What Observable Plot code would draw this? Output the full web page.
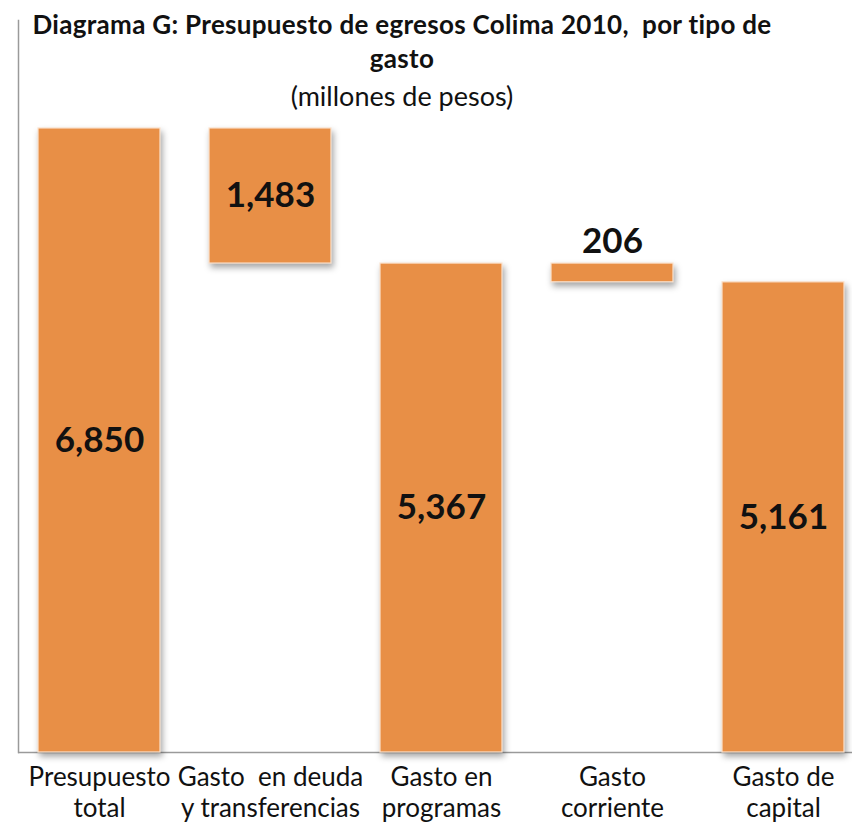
<!DOCTYPE html>
<html>
<head>
<meta charset="utf-8">
<script src="https://cdn.jsdelivr.net/npm/d3@7"></script>
<script src="https://cdn.jsdelivr.net/npm/@observablehq/plot@0.6"></script>
<style>
  html, body { margin: 0; padding: 0; background: #fff; }
  #wrap { position: relative; width: 852px; height: 822px; overflow: hidden; }
  #title { position: absolute; left: 0; top: 7px; width: 804px; text-align: center;
           font-family: Lato, "Liberation Sans", sans-serif; color: #111; z-index: 2; }
  #title .t { font-weight: bold; font-size: 26px; line-height: 34px; letter-spacing: 0.3px; white-space: nowrap; }
  #title .s { font-size: 27px; line-height: 42px; }
  .bars rect { filter: drop-shadow(2px 4px 3px rgba(0,0,0,0.35)); }
</style>
</head>
<body>
<div id="wrap">
  <div id="title">
    <div class="t">Diagrama G: Presupuesto de egresos Colima 2010,&nbsp; por tipo de<br>gasto</div>
    <div class="s">(millones de pesos)</div>
  </div>
  <div id="chart"></div>
</div>
<script>
const categories = ["Presupuesto\ntotal", "Gasto  en deuda\ny transferencias", "Gasto en\nprogramas", "Gasto\ncorriente", "Gasto de\ncapital"];
const values = [6850, 1483, 5367, 206, 5161];
const kinds = ["total", "resta", "total", "resta", "total"];

let level = 0;
const data = categories.map((c, i) => {
  const v = values[i];
  let y1, y2;
  if (kinds[i] === "total") { y1 = 0; y2 = v; level = v; }
  else { y2 = level; y1 = level - v; level = y1; }
  return {cat: c, value: v, y1, y2, mid: (y1 + y2) / 2, inside: (y2 - y1) > 800};
});

const fmt = d3.format(",");
const chart = Plot.plot({
  width: 852,
  height: 822,
  marginTop: 20,
  marginBottom: 70,
  marginLeft: 18,
  marginRight: 0,
  x: {domain: categories, paddingInner: 0.288, paddingOuter: 0.08, align: 0.72, label: null},
  y: {domain: [0, 8035], axis: null},
  style: {fontFamily: "Lato, 'Liberation Sans', sans-serif", color: "#111", background: "transparent"},
  marks: [
    Plot.frame({anchor: "left", stroke: "#9a9a9a", strokeWidth: 1.5}),
    Plot.ruleY([0], {stroke: "#9a9a9a", strokeWidth: 1.5}),
    Plot.barY(data, {x: "cat", y1: "y1", y2: "y2", fill: "#E88F46", stroke: "#fbe3cf", strokeWidth: 1.2, className: "bars"}),
    Plot.text(data.filter(d => d.inside), {x: "cat", y: "mid", text: d => fmt(d.value), fontSize: 35, fontWeight: "bold", fill: "#111"}),
    Plot.text(data.filter(d => !d.inside), {x: "cat", y: "y2", text: d => fmt(d.value), fontSize: 35, fontWeight: "bold", fill: "#111", dy: -22}),
    Plot.axisX({tickSize: 0, tickPadding: 12, fontSize: 26, lineHeight: 1.17, fill: "#111", label: null})
  ]
});
document.getElementById("chart").appendChild(chart);
</script>
</body>
</html>
